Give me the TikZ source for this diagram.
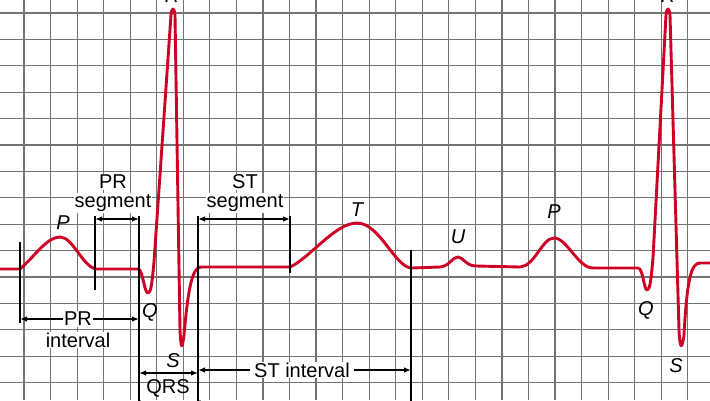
\documentclass[tikz,border=0pt]{standalone}
\usepackage{fontspec}
\setmainfont{Liberation Sans}
\usetikzlibrary{arrows.meta}
\definecolor{ecg}{RGB}{206,0,38}
\begin{document}
\begin{tikzpicture}[x=1pt,y=-1pt,
  gridline/.style={draw=black!55,line width=1.2pt},
  wave/.style={draw=ecg,line width=2.9pt,line join=round,line cap=round},
  marker/.style={draw=black,line width=1.9pt},
  dim/.style={draw=black,line width=1.3pt,{Latex[length=7pt,width=5.5pt]}-{Latex[length=7pt,width=5.5pt]}},
  lbl/.style={font=\fontsize{20}{21}\selectfont,inner sep=1pt},
  wl/.style={font=\fontsize{20}{21}\selectfont\itshape,inner sep=1pt},
]
\useasboundingbox (0,0) rectangle (710,400);
\clip (0,0) rectangle (710,400);
\fill[white] (0,0) rectangle (710,400);
% grid
\foreach \k in {0,...,25} \draw[gridline] ({24+26.55*\k},0) -- ({24+26.55*\k},400);
\foreach \k in {0,...,14} \draw[gridline] (0,{13+26.4*\k}) -- (710,{13+26.4*\k});
% ECG trace
\draw[wave] (-5,269) -- (20,269) .. controls (36,255) and (47,237) .. (60,237)
  .. controls (73,237) and (82,266) .. (96,269) -- (138,269)
  .. controls (143,269) and (144,293) .. (148,293)
  .. controls (151,293) and (152,283) .. (154,262) -- (171,15)
  .. controls (172,7) and (174,7) .. (175,15) -- (180,330)
  .. controls (181,350) and (182,350) .. (184,335)
  .. controls (188,290) and (192,267) .. (201,267) -- (290,267)
  .. controls (310,258) and (335,223) .. (357,223)
  .. controls (380,223) and (395,268) .. (412,268) -- (440,267)
  .. controls (450,266) and (452,257) .. (458,257)
  .. controls (463,257) and (466,266) .. (476,266) -- (520,267)
  .. controls (535,266) and (542,238) .. (554,238)
  .. controls (567,238) and (578,268) .. (593,268) -- (638,268)
  .. controls (643,268) and (644,290) .. (647,290)
  .. controls (650,290) and (651,280) .. (653,258) -- (666,15)
  .. controls (667,7) and (669,7) .. (670,15) -- (679,330)
  .. controls (680,350) and (682,350) .. (684,335)
  .. controls (687,280) and (691,263) .. (700,263) -- (715,263);
% marker coordinates
\coordinate (m1t) at (20,242);  \coordinate (m1b) at (20,323);
\coordinate (m2t) at (95,216);  \coordinate (m2b) at (95,290);
\coordinate (m3t) at (139,216); \coordinate (m3b) at (139,402);
\coordinate (m4t) at (198,216); \coordinate (m4b) at (198,402);
\coordinate (m5t) at (290,216); \coordinate (m5b) at (290,273);
\coordinate (m6t) at (411,250); \coordinate (m6b) at (411,402);
\draw[marker] (m1t) -- (m1b);
\draw[marker] (m2t) -- (m2b);
\draw[marker] (m3t) -- (m3b);
\draw[marker] (m4t) -- (m4b);
\draw[marker] (m5t) -- (m5b);
\draw[marker] (m6t) -- (m6b);
% dimension arrows
\coordinate (pri1) at (20,319);  \coordinate (pri2) at (139,319);
\coordinate (prs1) at (95,219);  \coordinate (prs2) at (139,219);
\coordinate (sts1) at (198,219); \coordinate (sts2) at (290,219);
\coordinate (qrs1) at (139,373); \coordinate (qrs2) at (198,373);
\coordinate (sti1) at (198,370); \coordinate (sti2) at (411,370);
\draw[dim] (pri1) -- (pri2);
\draw[dim] (prs1) -- (prs2);
\draw[dim] (sts1) -- (sts2);
\draw[dim] (qrs1) -- (qrs2);
\draw[dim] (sti1) -- (sti2);
% texts
\node[lbl,fill=white] (tpr) at (78,319) {PR};
\node[lbl,fill=white] (tint) at (78,340) {interval};
\node[lbl,fill=white] (tprs1) at (113,182) {PR};
\node[lbl,fill=white] (tprs2) at (113,203) {segment};
\node[lbl,fill=white] (tsts1) at (245,182) {ST};
\node[lbl,fill=white] (tsts2) at (245,203) {segment};
\node[lbl,fill=white,inner xsep=4pt] (tsti) at (302,370) {ST interval};
\node[lbl] (tqrs) at (168,388) {QRS};
\node[lbl] (tqrs2) at (170,408) {interval};
% wave labels
\node[wl] (lp1) at (63,223) {P};
\node[wl] (lr1) at (172,-4) {R};
\node[wl] (lq1) at (150,312) {Q};
\node[wl] (ls1) at (173,361) {S};
\node[wl] (lt) at (357,210) {T};
\node[wl] (lu) at (458,237) {U};
\node[wl] (lp2) at (554,212) {P};
\node[wl] (lr2) at (668,-4) {R};
\node[wl] (lq2) at (646,310) {Q};
\node[wl] (ls2) at (676,366) {S};
\end{tikzpicture}
\end{document}
